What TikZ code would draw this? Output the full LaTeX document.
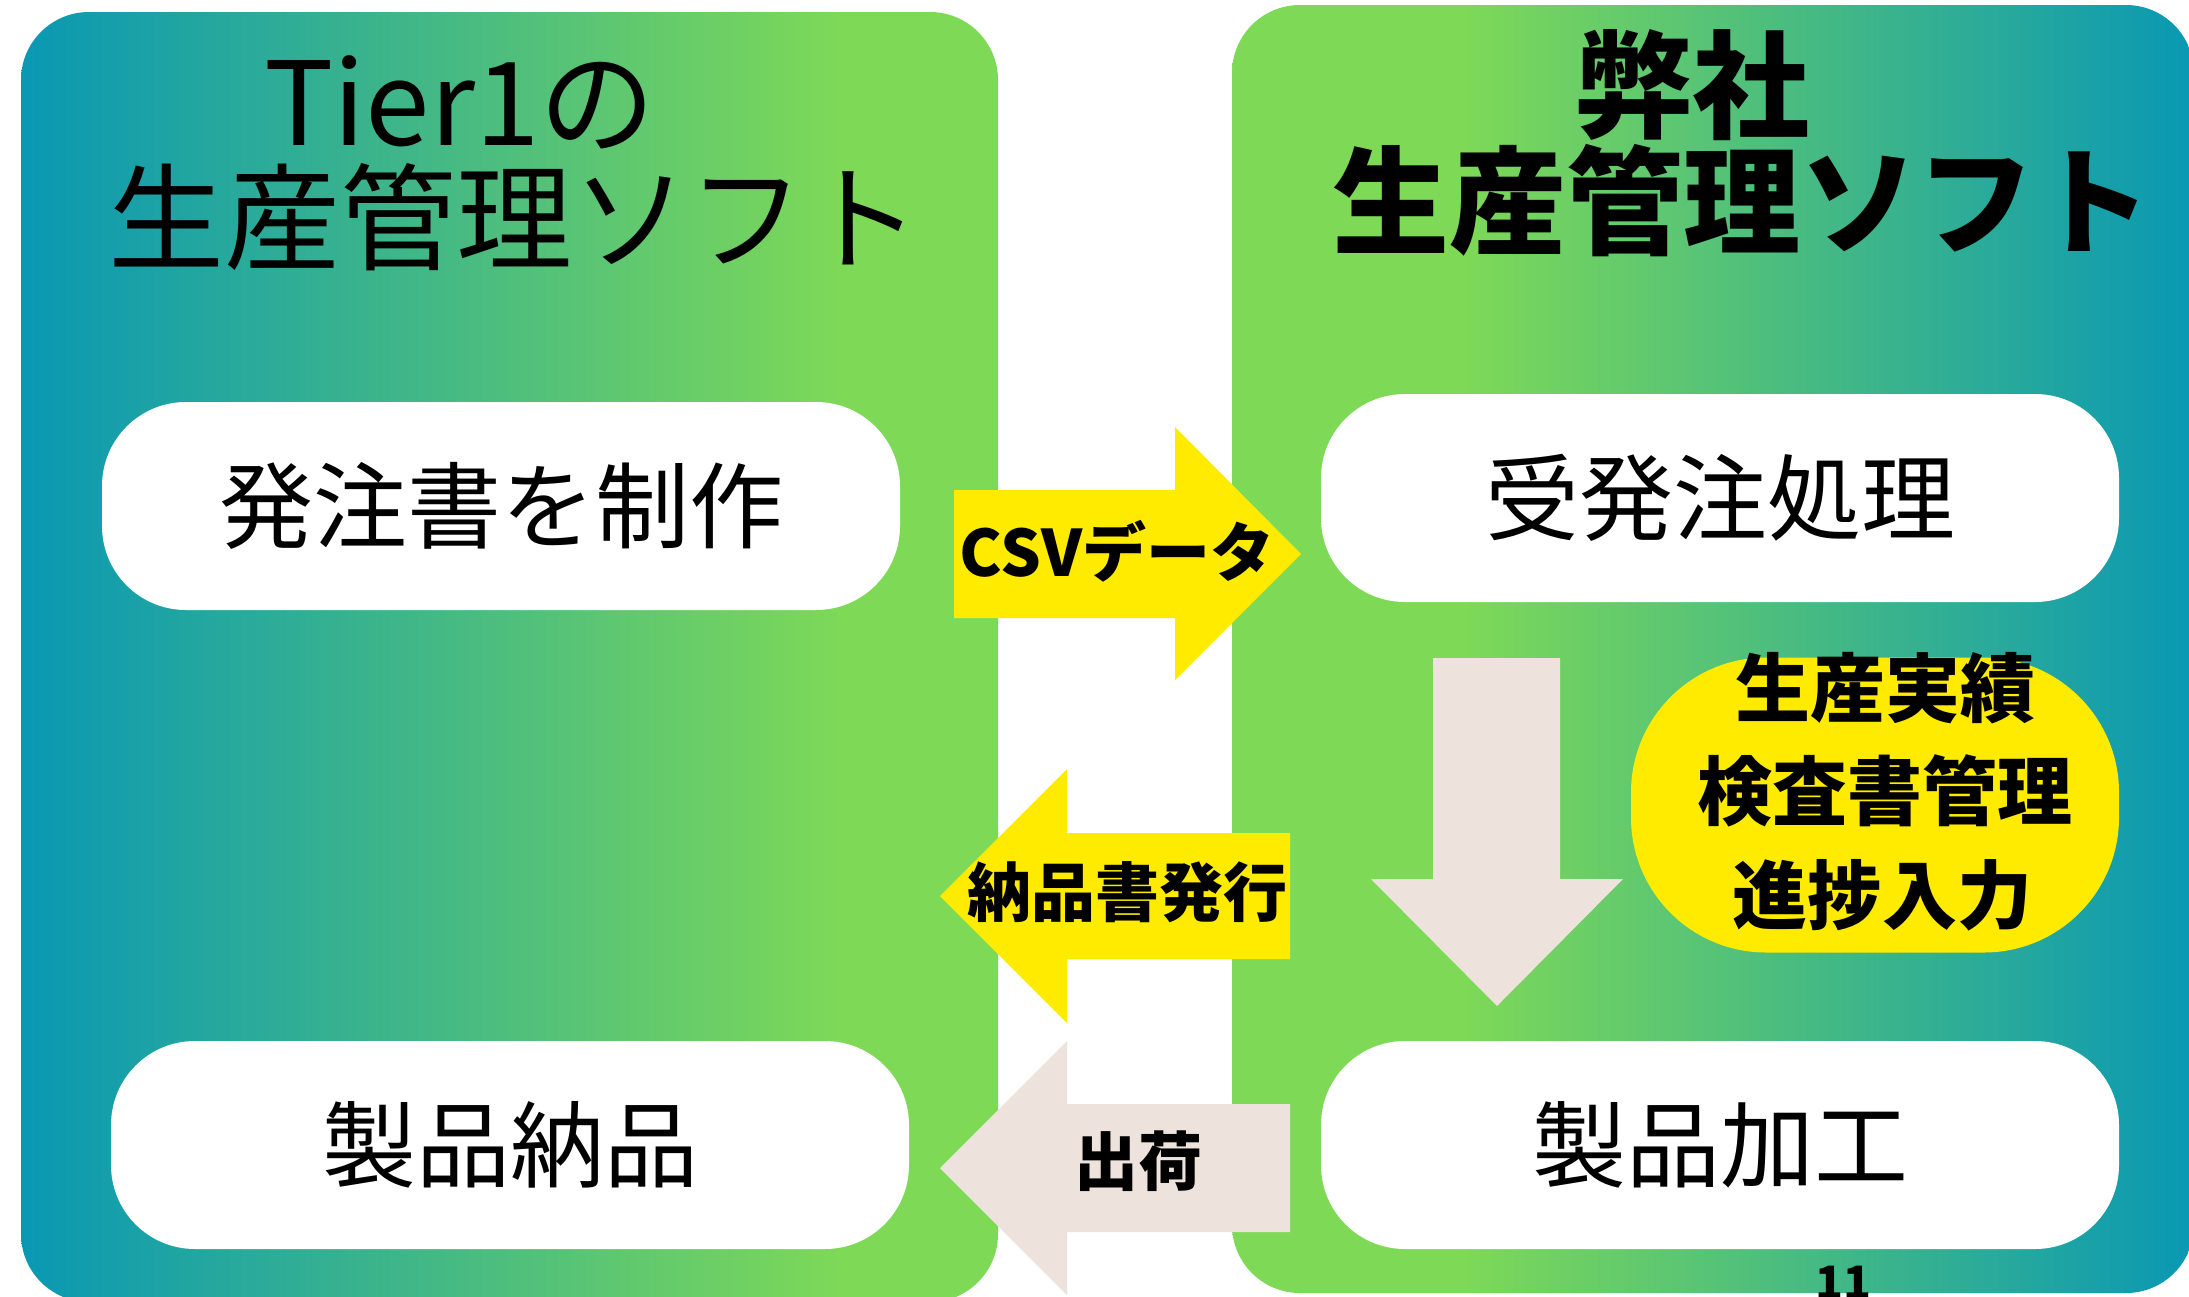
\documentclass[tikz,border=0pt]{standalone}
\usepackage{fontspec}
\newfontfamily\jp{Noto Sans CJK JP}
\definecolor{tealc}{RGB}{9,152,180}
\definecolor{grnc}{RGB}{126,217,87}
\definecolor{yel}{RGB}{255,235,0}
\definecolor{beige}{RGB}{237,227,220}
\pgfdeclarehorizontalshading{tealgreen}{100bp}{color(0bp)=(tealc); color(25bp)=(tealc); color(67bp)=(grnc); color(100bp)=(grnc)}
\pgfdeclarehorizontalshading{greenteal}{100bp}{color(0bp)=(grnc); color(25bp)=(grnc); color(37bp)=(grnc); color(75bp)=(tealc); color(100bp)=(tealc)}
\tikzset{
  panel/.style={rounded corners=68pt},
  wbox/.style={fill=white, rounded corners=84pt, minimum width=798pt, minimum height=208pt, inner sep=0pt, font=\jp\fontsize{94}{100}\selectfont},
  ybox/.style={fill=yel, rounded corners=135pt, minimum width=488pt, minimum height=295pt, inner sep=0pt},
  blabel/.style={inner sep=0pt, font=\jp\bfseries\fontsize{64}{70}\selectfont},
  ttl/.style={inner sep=0pt, font=\jp\fontsize{116}{120}\selectfont},
  bttl/.style={inner sep=0pt, font=\jp\bfseries\fontsize{117}{120}\selectfont},
  yline/.style={inner sep=0pt, font=\jp\bfseries\fontsize{75}{80}\selectfont},
}
\begin{document}
\begin{tikzpicture}[x=1pt,y=-1pt]
\useasboundingbox (0,0) rectangle (2189,1296);
\fill[white] (0,0) rectangle (2189,1296);
% panels
\shade[panel, shading=tealgreen] (21,12) rectangle (998,1302);
\shade[panel, shading=greenteal] (1232,5) rectangle (2194,1293);
% titles
\node[ttl] (t1a) at (460,102) {Tier1の};
\node[ttl] (t1b) at (514,217) {生産管理ソフト};
\node[bttl] (t2a) at (1692,85) {弊社};
\node[bttl] (t2b) at (1742,201) {生産管理ソフト};
% white boxes
\node[wbox] (order) at (501,506) {発注書を制作};
\node[wbox] (deliver) at (510,1145) {製品納品};
\node[wbox] (recv) at (1720,498) {受発注処理};
\node[wbox] (make) at (1720,1145) {製品加工};
% yellow box
\node[ybox] (ybx) at (1875,805) {};
\node[yline] (y1) at (1885,688) {生産実績};
\node[yline] (y2) at (1885,791) {検査書管理};
\node[yline] (y3) at (1882,895) {進捗入力};
% down arrow
\fill[beige] (1433,658) -- (1560,658) -- (1560,879) -- (1623,879) -- (1497,1006) -- (1371,879) -- (1433,879) -- cycle;
% CSV arrow
\fill[yel] (954,490) -- (1175,490) -- (1175,427) -- (1301,554) -- (1175,680) -- (1175,618) -- (954,618) -- cycle;
\node[blabel] (csv) at (1117,551) {CSVデータ};
% invoice arrow
\fill[yel] (1290,833) -- (1067,833) -- (1067,769) -- (940,896) -- (1067,1023) -- (1067,959) -- (1290,959) -- cycle;
\node[blabel] (inv) at (1127,892) {納品書発行};
% shipping arrow
\fill[beige] (1290,1104) -- (1067,1104) -- (1067,1041) -- (940,1168) -- (1067,1295) -- (1067,1232) -- (1290,1232) -- cycle;
\node[blabel] (ship) at (1138,1161) {出荷};
% page number
\node[inner sep=0pt, anchor=north, font=\jp\bfseries\fontsize{46}{50}\selectfont] (pg) at (1843,1266) {11};
\end{tikzpicture}
\end{document}
